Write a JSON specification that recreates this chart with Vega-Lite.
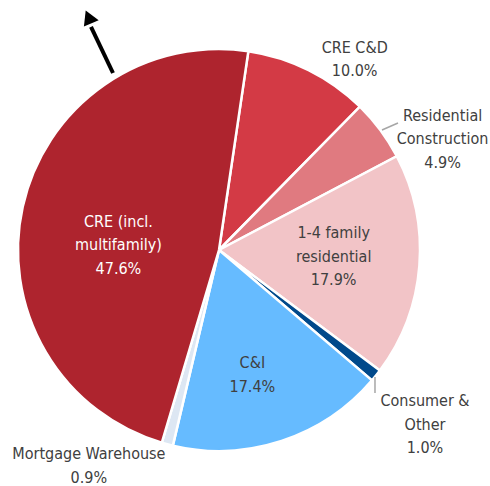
{
  "$schema": "https://vega.github.io/schema/vega-lite/v6.json",
  "width": 438,
  "height": 472,
  "autosize": {"type": "none"},
  "padding": {"left": 0, "top": 14, "right": 52, "bottom": 0},
  "background": "white",
  "view": {"stroke": null},
  "config": {"text": {"font": "Liberation Sans Narrow, Arial Narrow, DejaVu Sans Condensed, sans-serif", "fontSize": 16, "lineHeight": 23.5, "lineBreak": "\n", "baseline": "middle", "align": "center", "color": "#404040"}},
  "data": {"values": [
    {"category": "CRE C&D", "value": 10.0},
    {"category": "Residential\nConstruction", "value": 4.9},
    {"category": "1-4 family\nresidential", "value": 17.9},
    {"category": "Consumer &\nOther", "value": 1.0},
    {"category": "C&I", "value": 17.4},
    {"category": "Mortgage  Warehouse", "value": 0.9},
    {"category": "CRE (incl.\nmultifamily)", "value": 47.6}
  ]},
  "transform": [
    {"window": [{"op": "row_number", "as": "idx"}]},
    {"stack": "value", "groupby": [], "sort": [{"field": "idx", "order": "ascending"}], "as": ["t0", "t1"]},
    {"calculate": "(datum.t0 + datum.t1) / 2", "as": "mid"},
    {"calculate": "datum.category + '\\n' + format(datum.value, '.1f') + '%'", "as": "label"}
  ],
  "encoding": {
    "theta": {"field": "mid", "type": "quantitative", "scale": {"domain": [0, 99.7], "range": [0.14661, 6.4298]}}
  },
  "layer": [
    {
      "mark": {"type": "arc", "outerRadius": 201, "stroke": "white", "strokeWidth": 2.5},
      "encoding": {
        "theta": {"field": "t0", "type": "quantitative"},
        "theta2": {"field": "t1"},
        "color": {"field": "category", "type": "nominal", "legend": null,
          "scale": {"domain": ["CRE C&D", "Residential\nConstruction", "1-4 family\nresidential", "Consumer &\nOther", "C&I", "Mortgage  Warehouse", "CRE (incl.\nmultifamily)"],
                    "range": ["#d33a45", "#e07a80", "#f2c4c7", "#00498b", "#66bbff", "#dde7f3", "#ae242e"]}}
      }
    },
    {
      "transform": [{"filter": "datum.idx == 1"}],
      "mark": {"type": "text", "radius": 235, "dx": 31, "dy": 8},
      "encoding": {"text": {"field": "label"}}
    },
    {
      "transform": [{"filter": "datum.idx == 2"}],
      "mark": {"type": "text", "radius": 250, "dx": 23, "dy": 15},
      "encoding": {"text": {"field": "label"}}
    },
    {
      "transform": [{"filter": "datum.idx == 3"}],
      "mark": {"type": "text", "radius": 115, "dx": 0, "dy": -26},
      "encoding": {"text": {"field": "label"}}
    },
    {
      "transform": [{"filter": "datum.idx == 4"}],
      "mark": {"type": "text", "radius": 265, "dx": -1, "dy": -14},
      "encoding": {"text": {"field": "label"}}
    },
    {
      "transform": [{"filter": "datum.idx == 5"}],
      "mark": {"type": "text", "radius": 120, "dx": -4, "dy": -1},
      "encoding": {"text": {"field": "label"}}
    },
    {
      "transform": [{"filter": "datum.idx == 6"}],
      "mark": {"type": "text", "radius": 230, "dx": -71, "dy": -18},
      "encoding": {"text": {"field": "label"}}
    },
    {
      "transform": [{"filter": "datum.idx == 7"}],
      "mark": {"type": "text", "radius": 103, "dx": 0, "dy": -6, "color": "white"},
      "encoding": {"text": {"field": "label"}}
    },
    {
      "data": {"values": [{"note": "arrow"}]},
      "transform": [],
      "mark": {"type": "rule", "color": "black", "strokeWidth": 4},
      "encoding": {
        "theta": null,
        "x": {"datum": -0.5274, "type": "quantitative", "scale": {"domain": [-1.0896, 1.0896], "nice": false, "zero": false}, "axis": null},
        "y": {"datum": 0.8806, "type": "quantitative", "scale": {"domain": [-1.1741, 1.1741], "nice": false, "zero": false}, "axis": null},
        "x2": {"datum": -0.6368},
        "y2": {"datum": 1.1095}
      }
    },
    {
      "data": {"values": [{"note": "arrowhead"}]},
      "transform": [],
      "mark": {"type": "point", "shape": "triangle-up", "filled": true, "color": "black", "opacity": 1, "size": 260, "angle": -23.6},
      "encoding": {
        "theta": null,
        "x": {"datum": -0.6493, "type": "quantitative"},
        "y": {"datum": 1.1592, "type": "quantitative"}
      }
    },
    {
      "data": {"values": [{"note": "leader"}]},
      "transform": [],
      "mark": {"type": "rule", "color": "#a6a6a6", "strokeWidth": 1.5},
      "encoding": {
        "theta": null,
        "x": {"datum": 0.8109, "type": "quantitative"},
        "y": {"datum": 0.5970, "type": "quantitative"},
        "x2": {"datum": 0.8905},
        "y2": {"datum": 0.6318}
      }
    },
    {
      "data": {"values": [{"note": "leader"}]},
      "transform": [],
      "mark": {"type": "rule", "color": "#a6a6a6", "strokeWidth": 1.5},
      "encoding": {
        "theta": null,
        "x": {"datum": 0.7761, "type": "quantitative"},
        "y": {"datum": -0.6318, "type": "quantitative"},
        "x2": {"datum": 0.7761},
        "y2": {"datum": -0.7114}
      }
    }
  ]
}
